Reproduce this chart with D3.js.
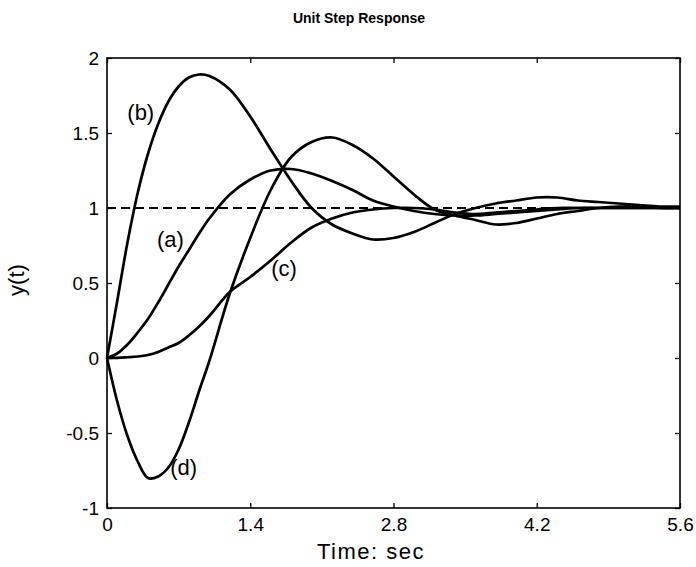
<!DOCTYPE html>
<html>
<head>
<meta charset="utf-8">
<script src="https://cdn.jsdelivr.net/npm/d3@7"></script>
<style>
  body { margin: 0; background: #fff; }
  svg { display: block; font-family: Arial, "Liberation Sans", Helvetica, sans-serif; }
  .axis text { font-size: 19px; fill: #000; }
  .axis line { stroke: #000; stroke-width: 1.3; }
  .curve { fill: none; stroke: #000; stroke-width: 2.7; stroke-linejoin: round; }
</style>
</head>
<body>
<svg class="chart"></svg>
<script>
// -------------------- Data --------------------
// time samples (sec)
var time = [0, 0.1, 0.2, 0.3, 0.4, 0.5, 0.6, 0.7, 0.8, 0.9, 1.0, 1.2, 1.4, 1.6, 1.8,
            2.0, 2.2, 2.4, 2.6, 2.8, 3.0, 3.2, 3.4, 3.6, 3.8, 4.0, 4.2, 4.4, 4.6,
            4.8, 5.0, 5.2, 5.4, 5.6];

var respA = [0, 0.03, 0.09, 0.17, 0.26, 0.37, 0.49, 0.61, 0.72, 0.83, 0.93, 1.09, 1.19,
             1.25, 1.26, 1.23, 1.18, 1.12, 1.05, 1.01, 0.98, 0.96, 0.95, 0.95, 0.96,
             0.97, 0.98, 0.99, 1.0, 1.0, 1.0, 1.0, 1.0, 1.0];

var respB = [0, 0.38, 0.77, 1.10, 1.36, 1.56, 1.71, 1.81, 1.87, 1.89, 1.88, 1.79, 1.61,
             1.39, 1.18, 1.00, 0.89, 0.83, 0.79, 0.80, 0.84, 0.90, 0.96, 1.00, 1.03,
             1.05, 1.07, 1.07, 1.05, 1.04, 1.03, 1.02, 1.01, 1.01];

var respC = [0, 0.001, 0.005, 0.01, 0.02, 0.04, 0.07, 0.10, 0.15, 0.21, 0.28, 0.44, 0.54,
             0.65, 0.77, 0.87, 0.93, 0.97, 0.99, 1.0, 1.0, 0.99, 0.97, 0.96, 0.97,
             0.98, 0.99, 1.0, 1.0, 1.0, 1.0, 1.0, 1.0, 1.0];

var respD = [0, -0.29, -0.52, -0.69, -0.80, -0.79, -0.73, -0.61, -0.43, -0.22, -0.02, 0.43,
             0.80, 1.12, 1.34, 1.44, 1.47, 1.42, 1.33, 1.21, 1.09, 0.99, 0.95, 0.92,
             0.89, 0.90, 0.93, 0.96, 0.98, 1.0, 1.01, 1.01, 1.0, 1.0];

var curveNames = ["(a)", "(b)", "(c)", "(d)"];
// where each name sits, in data units
var labelTime = [0.62, 0.33, 1.73, 0.75];
var labelValue = [0.79, 1.64, 0.6, -0.73];

var xTicks = [0, 1.4, 2.8, 4.2, 5.6];
var yTicks = [-1, -0.5, 0, 0.5, 1, 1.5, 2];

// -------------------- Settings --------------------
var margin = {top: 58, right: 16, bottom: 59, left: 107}
  , width = 680 - margin.left
  , height = 508 - margin.top;

var chart = d3.select(".chart")
  .attr("width", 696)
  .attr("height", 567)
  .append("g")
    .attr("transform", "translate(" + margin.left + "," + margin.top + ")");

// -------------------- Scales --------------------
var x = d3.scaleLinear().domain([0, 5.6]).range([0, width]);
var y = d3.scaleLinear().domain([-1, 2]).range([height, 0]);

// plain hyphen minus, like the original plot
var plain = function(d) { return String(d); };

// -------------------- Axes --------------------
chart.append("g")
  .attr("class", "x axis")
  .attr("transform", "translate(0," + height + ")")
  .call(d3.axisBottom(x).tickValues(xTicks).tickSize(-5).tickSizeOuter(0).tickPadding(10)
    .tickFormat(plain));

chart.append("g")
  .attr("class", "x axis")
  .call(d3.axisTop(x).tickValues(xTicks).tickSize(-5).tickSizeOuter(0).tickFormat(""));

chart.append("g")
  .attr("class", "y axis")
  .call(d3.axisLeft(y).tickValues(yTicks).tickSize(-5).tickSizeOuter(0).tickPadding(8)
    .tickFormat(plain));

chart.append("g")
  .attr("class", "y axis")
  .attr("transform", "translate(" + width + ",0)")
  .call(d3.axisRight(y).tickValues(yTicks).tickSize(-5).tickSizeOuter(0).tickFormat(""));

chart.selectAll(".domain").remove();

// plot frame
chart.append("rect")
  .attr("width", width)
  .attr("height", height)
  .attr("fill", "none")
  .attr("stroke", "#000")
  .attr("stroke-width", 1.6);

// -------------------- Reference line --------------------
chart.append("line")
  .attr("x1", x(0))
  .attr("x2", x(5.6))
  .attr("y1", y(1))
  .attr("y2", y(1))
  .attr("stroke", "#000")
  .attr("stroke-width", 2)
  .attr("stroke-dasharray", "9,5");

// -------------------- Curves --------------------
var line = d3.line()
  .x(function(d) { return x(d[0]); })
  .y(function(d) { return y(d[1]); })
  .curve(d3.curveCatmullRom.alpha(0.5));

var series = [respA, respB, respC, respD];

chart.selectAll(".curve")
  .data(series)
  .enter()
  .append("path")
    .attr("class", "curve")
    .attr("d", function(s) { return line(time.map(function(t, i) { return [t, s[i]]; })); });

chart.selectAll(".name")
  .data(curveNames)
  .enter()
  .append("text")
    .attr("class", "name")
    .attr("x", function(d, i) { return x(labelTime[i]); })
    .attr("y", function(d, i) { return y(labelValue[i]); })
    .attr("dy", "0.35em")
    .attr("text-anchor", "middle")
    .style("font-size", "22px")
    .text(function(d) { return d; });

// -------------------- Titles --------------------
d3.select(".chart").append("text")
  .attr("x", 359)
  .attr("y", 23)
  .attr("text-anchor", "middle")
  .style("font-size", "14px")
  .style("font-weight", "bold")
  .text("Unit Step Response");

d3.select(".chart").append("text")
  .attr("x", 371)
  .attr("y", 559)
  .attr("text-anchor", "middle")
  .style("font-size", "22px")
  .style("letter-spacing", "1.5px")
  .text("Time: sec");

d3.select(".chart").append("text")
  .attr("transform", "translate(24,280) rotate(-90)")
  .attr("text-anchor", "middle")
  .style("font-size", "22px")
  .text("y(t)");
</script>
</body>
</html>
